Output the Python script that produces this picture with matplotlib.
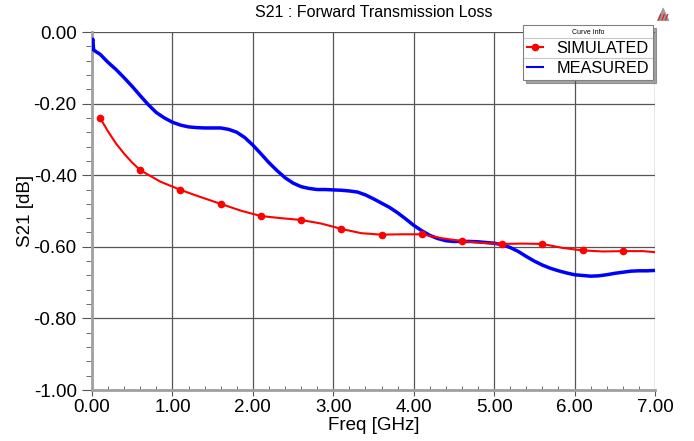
import matplotlib
matplotlib.use("Agg")
import matplotlib.pyplot as plt
from matplotlib.lines import Line2D
from matplotlib.patches import Polygon
from matplotlib.ticker import MultipleLocator, FormatStrFormatter

plt.rcParams['font.family'] = ['Liberation Sans', 'DejaVu Sans']

# simulated curve (line points) and the positions that carry a marker
sim_freq = [0.1, 0.2, 0.3, 0.4, 0.5, 0.6, 0.85, 1.1, 1.35, 1.6, 1.85, 2.1, 2.35, 2.6,
            2.85, 3.1, 3.35, 3.6, 3.85, 4.1, 4.35, 4.6, 4.85, 5.1, 5.35, 5.6, 5.85,
            6.1, 6.35, 6.6, 6.85, 7.0]
sim_db = [-0.24, -0.278, -0.312, -0.34, -0.365, -0.386, -0.418, -0.441, -0.461, -0.48,
          -0.499, -0.514, -0.52, -0.525, -0.535, -0.55, -0.562, -0.566, -0.565, -0.565,
          -0.576, -0.584, -0.589, -0.592, -0.591, -0.592, -0.603, -0.61, -0.613,
          -0.612, -0.612, -0.615]
sim_marker_freq = [0.1, 0.6, 1.1, 1.6, 2.1, 2.6, 3.1, 3.6, 4.1, 4.6, 5.1, 5.6, 6.1, 6.6]

meas_freq = [0.0, 0.01, 0.02, 0.05, 0.1, 0.2, 0.3, 0.4, 0.5, 0.6, 0.7, 0.8, 0.9, 1.0,
             1.1, 1.2, 1.3, 1.4, 1.5, 1.6, 1.7, 1.8, 1.9, 2.0, 2.1, 2.2, 2.3, 2.4, 2.5,
             2.6, 2.7, 2.8, 2.9, 3.0, 3.1, 3.2, 3.3, 3.4, 3.5, 3.6, 3.7, 3.8, 3.9, 4.0,
             4.1, 4.2, 4.3, 4.4, 4.5, 4.6, 4.7, 4.8, 4.9, 5.0, 5.1, 5.2, 5.3, 5.4, 5.5,
             5.6, 5.7, 5.8, 5.9, 6.0, 6.1, 6.2, 6.3, 6.4, 6.5, 6.6, 6.7, 6.8, 6.9, 7.0]
meas_db = [-0.03, -0.02, -0.05, -0.055, -0.062, -0.085, -0.105, -0.128, -0.152, -0.178,
           -0.203, -0.225, -0.24, -0.252, -0.26, -0.265, -0.267, -0.268, -0.268, -0.268,
           -0.272, -0.28, -0.295, -0.316, -0.34, -0.365, -0.387, -0.407, -0.422, -0.432,
           -0.437, -0.44, -0.44, -0.441, -0.442, -0.444, -0.447, -0.455, -0.466, -0.478,
           -0.49, -0.505, -0.522, -0.54, -0.555, -0.568, -0.577, -0.583, -0.585, -0.585,
           -0.585, -0.586, -0.588, -0.59, -0.594, -0.602, -0.613, -0.627, -0.64, -0.651,
           -0.66, -0.667, -0.673, -0.678, -0.68, -0.682, -0.681, -0.678, -0.674, -0.671,
           -0.668, -0.667, -0.667, -0.666]

fig = plt.figure(figsize=(6.94, 4.41), dpi=100)
ax = fig.add_axes([0.1326, 0.1156, 0.8112, 0.8118])

mark_idx = [sim_freq.index(f) for f in sim_marker_freq]
ax.plot(meas_freq, meas_db, color=(0, 0, 1), linewidth=2.5, zorder=3)
ax.plot(sim_freq, sim_db, color=(1, 0, 0), linewidth=1.5, marker='o', markersize=4.5,
        markevery=mark_idx, zorder=4)

ax.set_xlim(0, 7)
ax.set_ylim(-1, 0)
ax.xaxis.set_major_locator(MultipleLocator(1))
ax.xaxis.set_minor_locator(MultipleLocator(0.2))
ax.yaxis.set_major_locator(MultipleLocator(0.2))
ax.yaxis.set_minor_locator(MultipleLocator(0.04))
ax.xaxis.set_major_formatter(FormatStrFormatter('%.2f'))
ax.yaxis.set_major_formatter(FormatStrFormatter('%.2f'))
ax.grid(True, which='major', color='#555555', linewidth=0.9)

for s in ['top', 'right']:
    ax.spines[s].set_visible(False)
for s in ['left', 'bottom']:
    ax.spines[s].set_color('#a0a0a0')
    ax.spines[s].set_linewidth(2)

ax.tick_params(axis='both', which='major', labelsize=13.5, color='#555555')
ax.tick_params(axis='y', which='major', direction='out', length=7.5, pad=3.5)
ax.tick_params(axis='x', which='major', direction='out', length=4, pad=2.5)
ax.tick_params(axis='y', which='minor', direction='out', length=4.5, color='#555555')
ax.tick_params(axis='x', which='minor', direction='in', length=3, color='#555555')

ax.set_xlabel('Freq [GHz]', fontsize=13.5, labelpad=1)
ax.set_ylabel('S21 [dB]', fontsize=13.5, labelpad=0)
ax.set_title('S21 : Forward Transmission Loss', fontsize=11.5, pad=10.5)

# legend box
handles = [Line2D([], [], color=(1, 0, 0), marker='o', markersize=4.5, linewidth=1.5),
           Line2D([], [], color=(0, 0, 1), linewidth=1.5)]
leg = ax.legend(handles, ['SIMULATED', 'MEASURED'], loc='upper right',
                bbox_to_anchor=(0.9964, 1.0196), title='Curve Info',
                title_fontsize=5, fontsize=11.7, frameon=True, fancybox=False,
                shadow=True, framealpha=1, edgecolor='#808080', borderpad=0.25,
                labelspacing=0.3, handlelength=1.0, handletextpad=0.8,
                borderaxespad=0)
leg.get_frame().set_linewidth(0.8)
leg.set_zorder(10)

# separator lines inside the legend box
fig.canvas.draw()
inv = fig.transFigure.inverted()
box = leg.get_window_extent()
title_box = leg.get_title().get_window_extent()
text_boxes = [t.get_window_extent() for t in leg.get_texts()]
sep_y = [(title_box.y0 + text_boxes[0].y1) / 2, (text_boxes[0].y0 + text_boxes[1].y1) / 2]
for y in sep_y:
    (x0, yy), (x1, _) = inv.transform([(box.x0 + 1, y), (box.x1 - 1, y)])
    fig.lines.append(Line2D([x0, x1], [yy, yy], transform=fig.transFigure,
                            color='#c8c8c8', linewidth=0.8, zorder=20))

# small logo in the top right corner
fig.patches.append(Polygon([[0.947, 0.953], [0.964, 0.953], [0.9555, 0.982]],
                           closed=True, transform=fig.transFigure,
                           facecolor='#9a9a9a', edgecolor='#9a9a9a', linewidth=0.5))
for dx in [0.0, 0.005, 0.010]:
    fig.lines.append(Line2D([0.949 + dx, 0.952 + dx], [0.955, 0.967],
                            transform=fig.transFigure, color='#e02020', linewidth=0.9))

fig.savefig('out.png', dpi=100)
